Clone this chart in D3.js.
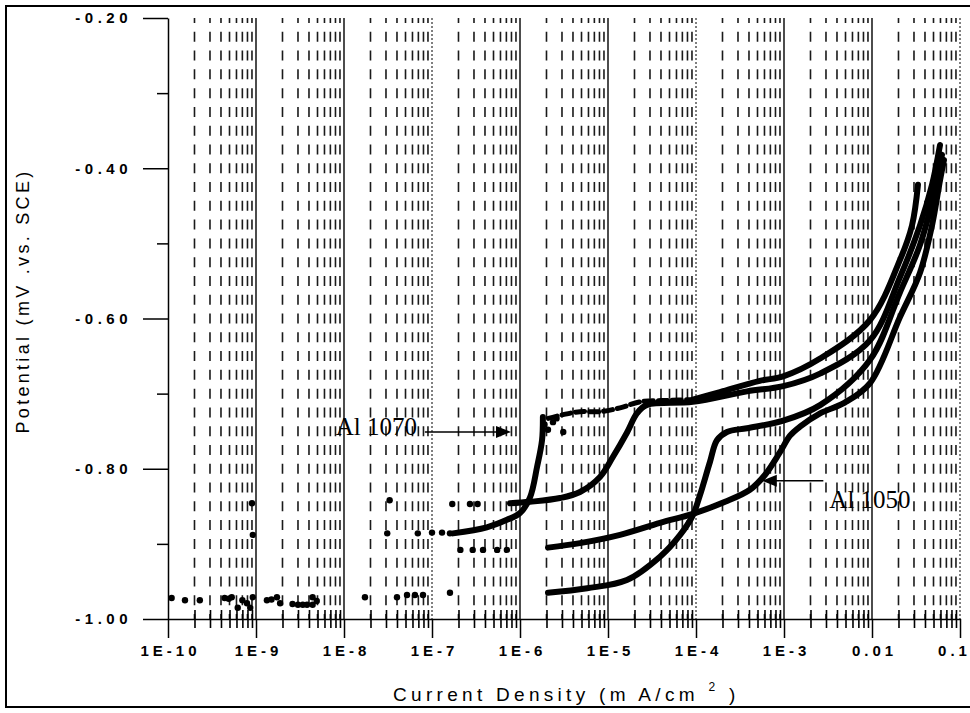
<!DOCTYPE html>
<html>
<head>
<meta charset="utf-8">
<script src="https://cdn.jsdelivr.net/npm/d3@7"></script>
<style>
body { margin: 0; background: #fff; }
text { font-family: "Liberation Sans", Arial, sans-serif; fill: #000; }
</style>
</head>
<body>
<div id="chart"></div>
<script>
// current density (mA/cm2) decades and their labels
var decades = [1e-10, 1e-9, 1e-8, 1e-7, 1e-6, 1e-5, 1e-4, 1e-3, 1e-2, 1e-1];
var decadeLabels = ["1E-10", "1E-9", "1E-8", "1E-7", "1E-6", "1E-5", "1E-4", "1E-3", "0.01", "0.1"];
var dottedDecades = [1e-10, 1e-7, 1e-4, 1e-1];

// potential ticks (V vs SCE)
var majorPot = [-1.0, -0.8, -0.6, -0.4, -0.2];
var minorPot = [-0.9, -0.7, -0.5, -0.3];

// curve 1 (Al 1070, with the noisy plateau)
var c1Dots = [[9.2e-10, -0.888], [3.1e-8, -0.886], [6.9e-8, -0.886], [1.0e-7, -0.885], [1.3e-7, -0.885], [1.6e-7, -0.886]];
var c1Rise = [[1.73e-7, -0.886], [4.2e-7, -0.878], [7.1e-7, -0.868], [1.0e-6, -0.859], [1.3e-6, -0.838],
              [1.56e-6, -0.798], [1.78e-6, -0.762], [1.82e-6, -0.731]];
var c1Scatter = [[2.08e-6, -0.748], [2.37e-6, -0.738], [3.1e-6, -0.751], [2.6e-6, -0.733], [1.9e-6, -0.741]];
var c1Plateau = [[2.1e-6, -0.733], [3.1e-6, -0.728], [4.8e-6, -0.724], [8.1e-6, -0.724], [1.37e-5, -0.719],
                 [2.31e-5, -0.711], [5.0e-5, -0.709], [9.2e-5, -0.708]];
var c1Top = [[9.2e-5, -0.708], [1.87e-4, -0.698], [5.3e-4, -0.683], [9.8e-4, -0.677], [2.6e-3, -0.653],
             [9.5e-3, -0.602], [0.0208, -0.522], [0.0285, -0.476], [0.0333, -0.422]];

// curve 2
var c2Dots = [[9.0e-10, -0.846], [3.3e-8, -0.842], [1.7e-7, -0.847], [2.7e-7, -0.847], [3.3e-7, -0.847]];
var c2Line = [[7.7e-7, -0.846], [1.3e-6, -0.844], [2.85e-6, -0.839], [4.8e-6, -0.831], [8.1e-6, -0.811],
              [1.14e-5, -0.784], [1.64e-5, -0.752], [2.14e-5, -0.726], [2.77e-5, -0.715], [9.2e-5, -0.711],
              [3.8e-4, -0.697], [9.8e-4, -0.690], [2.6e-3, -0.673], [9.5e-3, -0.629], [0.0208, -0.545],
              [0.0351, -0.476], [0.0481, -0.422], [0.0593, -0.369]];

// curve 3 (Al 1050)
var c3Dots = [[2.1e-7, -0.908], [2.9e-7, -0.908], [3.8e-7, -0.908], [5.5e-7, -0.908], [7.1e-7, -0.908]];
var c3Line = [[2.08e-6, -0.905], [4.8e-6, -0.899], [1.37e-5, -0.888], [3.9e-5, -0.872], [9.2e-5, -0.860],
              [2.14e-4, -0.844], [4.1e-4, -0.828], [6.1e-4, -0.808], [9.0e-4, -0.778], [1.17e-3, -0.756],
              [1.52e-3, -0.744], [2.6e-3, -0.726], [4.9e-3, -0.712], [9.5e-3, -0.686], [0.0208, -0.598],
              [0.0351, -0.539], [0.0481, -0.476], [0.0593, -0.416], [0.0658, -0.389]];

// curve 4
var c4Dots = [[1.1e-10, -0.972], [1.56e-10, -0.975], [2.3e-10, -0.975], [4.4e-10, -0.972], [4.9e-10, -0.973],
              [5.3e-10, -0.971], [6.2e-10, -0.985], [7.0e-10, -0.975], [7.9e-10, -0.979], [8.6e-10, -0.985],
              [9.2e-10, -0.971], [1.33e-9, -0.975], [1.5e-9, -0.974], [1.73e-9, -0.971], [1.88e-9, -0.979],
              [2.6e-9, -0.980], [3.0e-9, -0.981], [3.4e-9, -0.981], [3.8e-9, -0.981], [4.4e-9, -0.971],
              [4.9e-9, -0.976], [4.4e-9, -0.981], [1.73e-8, -0.971], [4.0e-8, -0.971], [5.2e-8, -0.968],
              [6.4e-8, -0.968], [7.9e-8, -0.968], [1.6e-7, -0.965]];
var c4Line = [[2.08e-6, -0.965], [5.8e-6, -0.959], [1.64e-5, -0.948], [3.9e-5, -0.917], [6.6e-5, -0.888],
              [9.2e-5, -0.862], [1.11e-4, -0.835], [1.44e-4, -0.791], [1.73e-4, -0.762], [2.25e-4, -0.751],
              [3.8e-4, -0.746], [9.8e-4, -0.736], [2.6e-3, -0.715], [9.5e-3, -0.655], [0.0208, -0.565],
              [0.0351, -0.502], [0.052, -0.429], [0.0624, -0.382]];

// arrow annotations: tip and tail in data units
var note1070 = {label: "Al 1070", tip: [7.9e-7, -0.751], tail: [8.3e-8, -0.751]};
var note1050 = {label: "Al 1050", tip: [5.6e-4, -0.816], tail: [2.8e-3, -0.816]};

var W = 970, H = 713;
var margin = {top: 18, right: 10, bottom: 94, left: 168},
    width = W - margin.left - margin.right,
    height = H - margin.top - margin.bottom;

var svg = d3.select("#chart")
    .append("svg")
    .attr("width", W)
    .attr("height", H);

// scanned page frame
svg.append("path")
    .attr("d", "M970,6H6V707H970")
    .attr("fill", "none")
    .attr("stroke", "#000")
    .attr("stroke-width", 2);

var g = svg.append("g")
    .attr("transform", "translate(" + margin.left + "," + margin.top + ")");

var x = d3.scaleLog().domain([1e-10, 0.1]).range([0, width]);
var y = d3.scaleLinear().domain([-1.0, -0.2]).range([height, 0]);

var isDecade = function(t) { return Math.abs(Math.log10(t) - Math.round(Math.log10(t))) < 1e-6; };
var minorX = x.ticks().filter(function(t) { return !isDecade(t); });

// minor vertical grid (short dashes)
g.selectAll(".minorgrid")
    .data(minorX)
    .enter()
    .append("line")
    .attr("x1", function(d) { return x(d); })
    .attr("x2", function(d) { return x(d); })
    .attr("y1", 0)
    .attr("y2", height)
    .attr("stroke", "#1a1a1a")
    .attr("stroke-width", 1.6)
    .attr("stroke-dasharray", "10," + (height / 32 - 10))
    .attr("stroke-dashoffset", 5);

// decade grid lines
g.selectAll(".decgrid")
    .data(decades.slice(1))
    .enter()
    .append("line")
    .attr("x1", function(d) { return x(d); })
    .attr("x2", function(d) { return x(d); })
    .attr("y1", 0)
    .attr("y2", height)
    .attr("stroke", "#000")
    .attr("stroke-width", function(d) { return dottedDecades.indexOf(d) >= 0 ? 1 : 1.4; })
    .attr("stroke-dasharray", function(d) { return dottedDecades.indexOf(d) >= 0 ? "2,2" : null; });

// x axis
var xAxis = g.append("g")
    .attr("transform", "translate(0," + height + ")")
    .call(d3.axisBottom(x).tickValues(decades).tickSize(19).tickSizeOuter(0).tickPadding(7)
        .tickFormat(function(d, i) { return decadeLabels[i]; }));
xAxis.selectAll("text")
    .attr("dx", function(d, i) { return i === decades.length - 1 ? -6 : 2; })
    .style("font-size", "15px")
    .style("font-weight", "bold")
    .style("letter-spacing", "4px");
xAxis.selectAll("path, line").attr("stroke", "#000").attr("stroke-width", 1.5);

var xMinor = g.append("g")
    .attr("transform", "translate(0," + height + ")")
    .call(d3.axisBottom(x).tickValues(minorX).tickSize(9).tickSizeOuter(0).tickFormat(""));
xMinor.select(".domain").remove();
xMinor.selectAll("line").attr("y1", -9).attr("stroke", "#000").attr("stroke-width", 1.6);

// y axis
var yAxis = g.append("g")
    .call(d3.axisLeft(y).tickValues(majorPot).tickSize(25).tickSizeOuter(0).tickPadding(11)
        .tickFormat(function(d) { return d.toFixed(2); }));
yAxis.selectAll("text")
    .style("font-size", "15px")
    .style("font-weight", "bold")
    .style("letter-spacing", "4.5px");
yAxis.selectAll("path, line").attr("stroke", "#000").attr("stroke-width", 1.5);

var yMinor = g.append("g")
    .call(d3.axisLeft(y).tickValues(minorPot).tickSize(11).tickSizeOuter(0).tickFormat(""));
yMinor.select(".domain").remove();
yMinor.selectAll("line").attr("stroke", "#000").attr("stroke-width", 1.5);

// curves
var line = d3.line()
    .x(function(d) { return x(d[0]); })
    .y(function(d) { return y(d[1]); })
    .curve(d3.curveCatmullRom.alpha(0.5));

var solid = [c1Rise, c1Top, c2Line, c3Line, c4Line];
g.selectAll(".curve")
    .data(solid)
    .enter()
    .append("path")
    .attr("d", line)
    .attr("fill", "none")
    .attr("stroke", "#000")
    .attr("stroke-width", 6)
    .attr("stroke-linecap", "round")
    .attr("stroke-linejoin", "round");

g.append("path")
    .attr("d", line(c1Plateau))
    .attr("fill", "none")
    .attr("stroke", "#000")
    .attr("stroke-width", 5)
    .attr("stroke-dasharray", "9,5")
    .attr("stroke-linecap", "round");

var dots = c1Dots.concat(c1Scatter, c2Dots, c3Dots, c4Dots);
g.selectAll(".dot")
    .data(dots)
    .enter()
    .append("circle")
    .attr("cx", function(d) { return x(d[0]); })
    .attr("cy", function(d) { return y(d[1]); })
    .attr("r", 3.2)
    .attr("fill", "#000");

// annotations
function arrow(note, anchor, dxText, dyText) {
    var tx = x(note.tip[0]), ty = y(note.tip[1]),
        sx = x(note.tail[0]), sy = y(note.tail[1]);
    var dir = sx < tx ? -1 : 1;
    g.append("line")
        .attr("x1", sx).attr("y1", sy)
        .attr("x2", tx + dir * 12).attr("y2", ty)
        .attr("stroke", "#000").attr("stroke-width", 1.5);
    g.append("path")
        .attr("d", "M" + tx + "," + ty + "L" + (tx + dir * 15) + "," + (ty - 6) +
            "L" + (tx + dir * 15) + "," + (ty + 6) + "Z")
        .attr("fill", "#000");
    g.append("text")
        .attr("x", sx + dxText)
        .attr("y", sy + dyText)
        .attr("text-anchor", anchor)
        .style("font-family", "'Liberation Serif', 'Times New Roman', serif")
        .style("font-size", "25px")
        .text(note.label);
}
arrow(note1070, "end", -8, 3);
arrow(note1050, "start", 6, 27);

// axis titles
var xTitle = svg.append("text")
    .attr("x", 393)
    .attr("y", 701)
    .style("font-size", "19px")
    .style("letter-spacing", "4.3px");
xTitle.append("tspan").text("Current Density (m A/cm ");
xTitle.append("tspan").attr("dy", -10).style("font-size", "12px").text("2");
xTitle.append("tspan").attr("dy", 10).text(" )");

svg.append("text")
    .attr("transform", "translate(29,301)rotate(-90)")
    .attr("text-anchor", "middle")
    .style("font-size", "18px")
    .style("letter-spacing", "3.3px")
    .text("Potential (mV .vs. SCE)");
</script>
</body>
</html>
